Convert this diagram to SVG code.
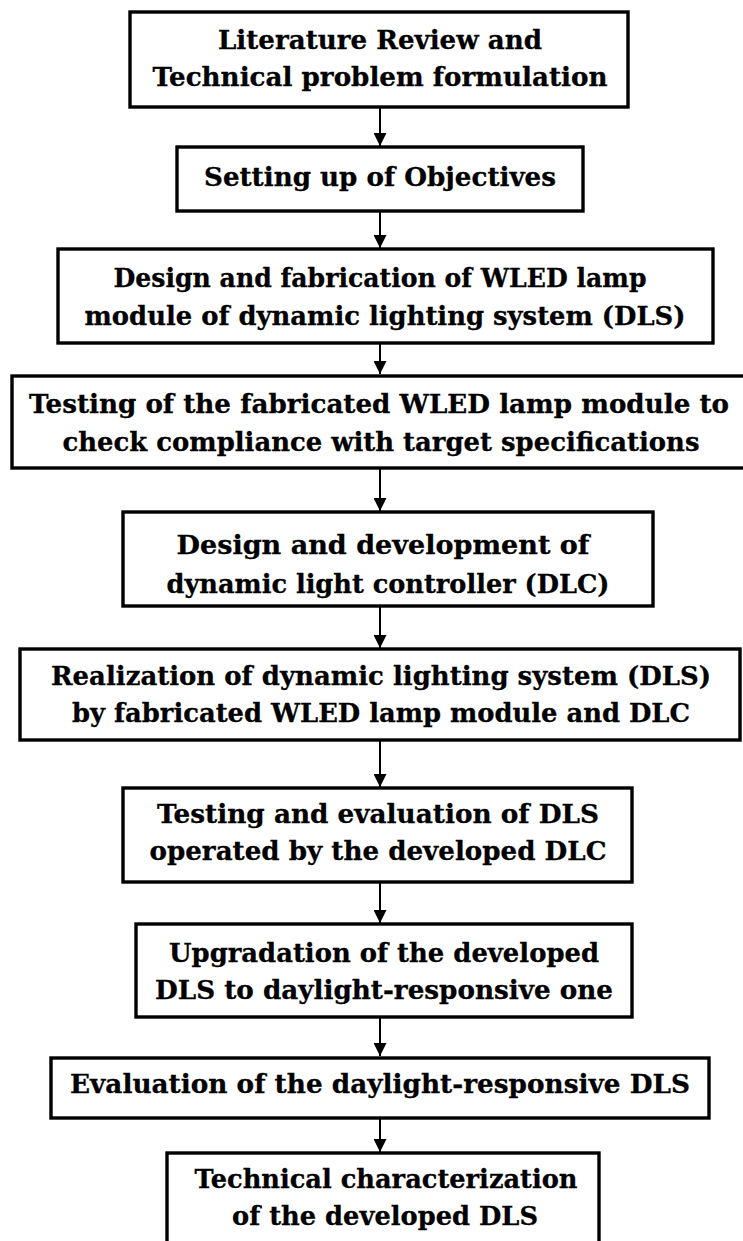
<svg xmlns="http://www.w3.org/2000/svg" width="743" height="1241" viewBox="0 0 743 1241">
<style>
.box{fill:#ffffff;stroke:#000000;stroke-width:3.4}
.t{font-family:"DejaVu Serif","Liberation Serif",serif;font-weight:bold;font-size:26px;fill:#000000;stroke:#000000;stroke-width:0.3;text-anchor:middle}
.c{stroke:#000000;stroke-width:2;fill:none}
</style>
<defs>
<marker id="ah" markerUnits="userSpaceOnUse" markerWidth="13" markerHeight="13" refX="13" refY="6.5" orient="auto" viewBox="0 0 13 13">
<path d="M0,0 L13,6.5 L0,13 z" fill="#000000"/>
</marker>
</defs>
<rect width="743" height="1241" fill="#ffffff"/>
<g id="connectors">
<line class="c" x1="380" y1="108" x2="380" y2="146" marker-end="url(#ah)"/>
<line class="c" x1="380" y1="211" x2="380" y2="248" marker-end="url(#ah)"/>
<line class="c" x1="380" y1="343" x2="380" y2="374" marker-end="url(#ah)"/>
<line class="c" x1="380" y1="468" x2="380" y2="511" marker-end="url(#ah)"/>
<line class="c" x1="380" y1="606" x2="380" y2="648" marker-end="url(#ah)"/>
<line class="c" x1="380" y1="740" x2="380" y2="787" marker-end="url(#ah)"/>
<line class="c" x1="380" y1="882" x2="380" y2="923" marker-end="url(#ah)"/>
<line class="c" x1="380" y1="1017" x2="380" y2="1056" marker-end="url(#ah)"/>
<line class="c" x1="380" y1="1118" x2="380" y2="1152" marker-end="url(#ah)"/>
</g>
<g id="n1">
<rect class="box" x="130" y="12" width="498" height="95"/>
<text class="t" x="380" y="49" textLength="324" lengthAdjust="spacingAndGlyphs">Literature Review and</text>
<text class="t" x="380" y="86" textLength="455" lengthAdjust="spacingAndGlyphs">Technical problem formulation</text>
</g>
<g id="n2">
<rect class="box" x="177" y="147" width="406" height="64"/>
<text class="t" x="380" y="186" textLength="352" lengthAdjust="spacingAndGlyphs">Setting up of Objectives</text>
</g>
<g id="n3">
<rect class="box" x="58" y="249" width="655" height="94"/>
<text class="t" x="380" y="287" textLength="533" lengthAdjust="spacingAndGlyphs">Design and fabrication of WLED lamp</text>
<text class="t" x="385" y="325" textLength="601" lengthAdjust="spacingAndGlyphs">module of dynamic lighting system (DLS)</text>
</g>
<g id="n4">
<rect class="box" x="12" y="376" width="745" height="92"/>
<text class="t" x="379" y="413" textLength="700" lengthAdjust="spacingAndGlyphs">Testing of the fabricated WLED lamp module to</text>
<text class="t" x="381" y="451" textLength="637" lengthAdjust="spacingAndGlyphs">check compliance with target specifications</text>
</g>
<g id="n5">
<rect class="box" x="123" y="512" width="530" height="94"/>
<text class="t" x="383" y="554" textLength="413" lengthAdjust="spacingAndGlyphs">Design and development of</text>
<text class="t" x="388" y="593" textLength="443" lengthAdjust="spacingAndGlyphs">dynamic light controller (DLC)</text>
</g>
<g id="n6">
<rect class="box" x="20" y="649" width="720" height="91"/>
<text class="t" x="381" y="685" textLength="660" lengthAdjust="spacingAndGlyphs">Realization of dynamic lighting system (DLS)</text>
<text class="t" x="381" y="722" textLength="618" lengthAdjust="spacingAndGlyphs">by fabricated WLED lamp module and DLC</text>
</g>
<g id="n7">
<rect class="box" x="123" y="788" width="509" height="94"/>
<text class="t" x="378" y="823" textLength="442" lengthAdjust="spacingAndGlyphs">Testing and evaluation of DLS</text>
<text class="t" x="378" y="860" textLength="457" lengthAdjust="spacingAndGlyphs">operated by the developed DLC</text>
</g>
<g id="n8">
<rect class="box" x="136" y="924" width="496" height="93"/>
<text class="t" x="384" y="962" textLength="430" lengthAdjust="spacingAndGlyphs">Upgradation of the developed</text>
<text class="t" x="384" y="999" textLength="458" lengthAdjust="spacingAndGlyphs">DLS to daylight-responsive one</text>
</g>
<g id="n9">
<rect class="box" x="51" y="1058" width="658" height="60"/>
<text class="t" x="380" y="1093" textLength="620" lengthAdjust="spacingAndGlyphs">Evaluation of the daylight-responsive DLS</text>
</g>
<g id="n10">
<rect class="box" x="167" y="1153" width="432" height="110"/>
<text class="t" x="386" y="1188" textLength="383" lengthAdjust="spacingAndGlyphs">Technical characterization</text>
<text class="t" x="385" y="1225" textLength="306" lengthAdjust="spacingAndGlyphs">of the developed DLS</text>
</g>
</svg>
